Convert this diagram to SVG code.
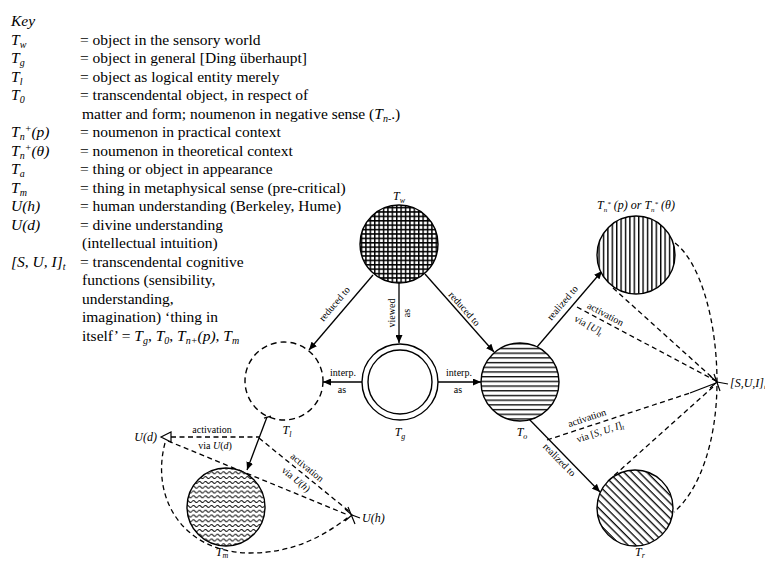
<svg xmlns="http://www.w3.org/2000/svg" width="765" height="562" viewBox="0 0 765 562">
<style>
.k{font-family:"Liberation Serif",serif;font-size:15.5px;fill:#000}
.i{font-style:italic}
.s{font-size:10px}
.lab{font-family:"Liberation Serif",serif;font-size:10px;fill:#000}
.nl{font-family:"Liberation Serif",serif;font-style:italic;font-size:12px;fill:#000}
.ln{stroke:#000;stroke-width:1.3;fill:none}
.dash{stroke-dasharray:5 3.5}
.arr{marker-end:url(#ah)}
.rim{stroke:#000;stroke-width:1.4}
</style>
<defs>
<marker id="ah" markerUnits="userSpaceOnUse" markerWidth="9" markerHeight="7" refX="8" refY="3.5" orient="auto"><path d="M0,0 L8,3.5 L0,7 z" fill="#000"/></marker>
<pattern id="grid" width="4.4" height="4.4" patternUnits="userSpaceOnUse"><rect width="4.4" height="4.4" fill="#fff"/><path d="M0,0.7 H4.4 M0.7,0 V4.4" stroke="#000" stroke-width="1.5"/></pattern>
<pattern id="vl" width="4.4" height="10" patternUnits="userSpaceOnUse"><rect width="4.4" height="10" fill="#fff"/><path d="M0.7,0 V10" stroke="#000" stroke-width="1.4"/></pattern>
<pattern id="hl" width="10" height="4.7" patternUnits="userSpaceOnUse"><rect width="10" height="4.7" fill="#fff"/><path d="M0,0.7 H10" stroke="#000" stroke-width="1.3"/></pattern>
<pattern id="dl" width="10" height="5.4" patternUnits="userSpaceOnUse" patternTransform="rotate(45)"><rect width="10" height="5.4" fill="#fff"/><path d="M0,0.7 H10" stroke="#000" stroke-width="1.3"/></pattern>
<pattern id="wv" width="6" height="4.8" patternUnits="userSpaceOnUse"><rect width="6" height="4.8" fill="#fff"/><path d="M0,2.4 Q1.5,0.4 3,2.4 T6,2.4" stroke="#000" stroke-width="1.1" fill="none"/></pattern>
</defs>
<rect width="765" height="562" fill="#fff"/>

<g id="key">
<text class="k i" x="11" y="26">Key</text>
<text class="k i" x="11" y="44.5">T<tspan class="s" dy="3">w</tspan></text>
<text class="k i" x="11" y="63">T<tspan class="s" dy="3">g</tspan></text>
<text class="k i" x="11" y="81.5">T<tspan class="s" dy="3">l</tspan></text>
<text class="k i" x="11" y="100">T<tspan class="s" dy="3">0</tspan></text>
<text class="k i" x="11" y="137">T<tspan class="s" dy="3">n</tspan><tspan class="s" dy="-8">+</tspan><tspan dy="5">(p)</tspan></text>
<text class="k i" x="11" y="155.5">T<tspan class="s" dy="3">n</tspan><tspan class="s" dy="-8">+</tspan><tspan dy="5">(θ)</tspan></text>
<text class="k i" x="11" y="174">T<tspan class="s" dy="3">a</tspan></text>
<text class="k i" x="11" y="192.5">T<tspan class="s" dy="3">m</tspan></text>
<text class="k i" x="11" y="211">U(h)</text>
<text class="k i" x="11" y="229.5">U(d)</text>
<text class="k i" x="11" y="266.5">[S, U, I]<tspan class="s" dy="3">t</tspan></text>

<text class="k" x="80" y="44.5">= object in the sensory world</text>
<text class="k" x="80" y="63">= object in general [Ding überhaupt]</text>
<text class="k" x="80" y="81.5">= object as logical entity merely</text>
<text class="k" x="80" y="100">= transcendental object, in respect of</text>
<text class="k" x="82" y="118.5">matter and form; noumenon in negative sense (<tspan class="i">T</tspan><tspan class="i s" dy="3">n-</tspan><tspan dy="-3">.)</tspan></text>
<text class="k" x="80" y="137">= noumenon in practical context</text>
<text class="k" x="80" y="155.5">= noumenon in theoretical context</text>
<text class="k" x="80" y="174">= thing or object in appearance</text>
<text class="k" x="80" y="192.5">= thing in metaphysical sense (pre-critical)</text>
<text class="k" x="80" y="211">= human understanding (Berkeley, Hume)</text>
<text class="k" x="80" y="229.5">= divine understanding</text>
<text class="k" x="82" y="248">(intellectual intuition)</text>
<text class="k" x="80" y="266.5">= transcendental cognitive</text>
<text class="k" x="82" y="285">functions (sensibility,</text>
<text class="k" x="82" y="303.5">understanding,</text>
<text class="k" x="82" y="322">imagination) ‘thing in</text>
<text class="k" x="82" y="340.5">itself’ = <tspan class="i">T</tspan><tspan class="i s" dy="3">g</tspan><tspan dy="-3">, </tspan><tspan class="i">T</tspan><tspan class="i s" dy="3">0</tspan><tspan dy="-3">, </tspan><tspan class="i">T</tspan><tspan class="i s" dy="3">n+</tspan><tspan class="i" dy="-3">(p)</tspan>, <tspan class="i">T</tspan><tspan class="i s" dy="3">m</tspan></text>
</g>

<g id="connectors">
<path class="ln arr" d="M373,275 L309,350"/>
<path class="ln arr" d="M399,283 L399,343"/>
<path class="ln arr" d="M425,274 L494,352"/>
<path class="ln arr" d="M362,382 L323,382"/>
<path class="ln arr" d="M438,382 L481,382"/>
<path class="ln arr" d="M537,347 L602,271"/>
<path class="ln arr" d="M528,418 L600,492"/>
<path class="ln" d="M264,418 L271,416"/>
<path class="ln arr" d="M267,417 L247,470"/>

<path class="ln dash" d="M577,307 L716,381"/>
<path class="ln dash" d="M613,288 L716,381"/>
<path class="ln dash" d="M675,243 C700,262 717,320 717,382 C717,440 700,490 674,512"/>
<path class="ln dash" d="M547,440 L690,393"/>
<path class="ln" d="M690,393 L716,383"/>
<path class="ln dash" d="M608,481 L714,386"/>
<path class="ln dash" d="M171,437 L259,437"/>
<path class="ln dash" d="M259,438 L350,512"/>
<path class="ln dash" d="M168,441 L348,515"/>
<path class="ln dash" d="M165,443 C150,500 185,553 250,553 C295,553 325,535 350,516"/>

<text class="lab" transform="translate(337,306) rotate(-49.5)" text-anchor="middle">reduced to</text>
<text class="lab" transform="translate(395,313) rotate(-90)" text-anchor="middle">viewed</text>
<text class="lab" transform="translate(410,313) rotate(-90)" text-anchor="middle">as</text>
<text class="lab" transform="translate(462,311) rotate(48.5)" text-anchor="middle">reduced to</text>
<text class="lab" x="343" y="376" text-anchor="middle">interp.</text>
<text class="lab" x="342" y="393" text-anchor="middle">as</text>
<text class="lab" x="459" y="376" text-anchor="middle">interp.</text>
<text class="lab" x="458" y="393" text-anchor="middle">as</text>
<text class="lab" transform="translate(565,305) rotate(-49.5)" text-anchor="middle">realized to</text>
<text class="lab" transform="translate(557,462) rotate(45.8)" text-anchor="middle">realized to</text>
<text class="lab" transform="translate(604,317) rotate(28)" text-anchor="middle">activation</text>
<text class="lab" transform="translate(587,328) rotate(28)" text-anchor="middle">via [<tspan class="i">U</tspan>]<tspan class="i" font-size="7" dy="2">t</tspan></text>
<text class="lab" transform="translate(588,421) rotate(-18.2)" text-anchor="middle">activation</text>
<text class="lab" transform="translate(601,435) rotate(-18.2)" text-anchor="middle">via [<tspan class="i">S, U, I</tspan>]<tspan class="i" font-size="7" dy="2">t</tspan></text>
<text class="lab" x="212" y="433" text-anchor="middle">activation</text>
<text class="lab" x="215" y="449" text-anchor="middle">via <tspan class="i">U</tspan>(<tspan class="i">d</tspan>)</text>
<text class="lab" transform="translate(305,470) rotate(39.1)" text-anchor="middle">activation</text>
<text class="lab" transform="translate(294,482) rotate(39.1)" text-anchor="middle">via <tspan class="i">U</tspan>(<tspan class="i">h</tspan>)</text>
</g>

<g id="n-Tw">
<circle cx="399" cy="244" r="39" fill="url(#grid)" class="rim"/>
<text class="nl" x="399" y="200" text-anchor="middle">T<tspan font-size="8" dy="2.5">w</tspan></text>
</g>
<g id="n-Tn">
<circle cx="636" cy="255" r="39" fill="url(#vl)" class="rim"/>
<text class="nl" x="636" y="209" text-anchor="middle" font-size="10">T<tspan font-size="7" dy="2.5">n</tspan><tspan font-size="7" dy="-6">*</tspan><tspan dy="3.5"> (p) or </tspan>T<tspan font-size="7" dy="2.5">n</tspan><tspan font-size="7" dy="-6">*</tspan><tspan dy="3.5"> (θ)</tspan></text>
</g>
<g id="n-Tg">
<circle cx="400" cy="382" r="38" fill="#fff" class="rim"/>
<circle cx="400" cy="382" r="32" fill="#fff" class="rim"/>
<text class="nl" x="400" y="436" text-anchor="middle">T<tspan font-size="8" dy="2.5">g</tspan></text>
</g>
<g id="n-Tl">
<circle cx="284" cy="381" r="39" fill="none" stroke="#000" stroke-width="1.4" stroke-dasharray="6 4"/>
<text class="nl" x="287" y="434" text-anchor="middle">T<tspan font-size="8" dy="2.5">l</tspan></text>
</g>
<g id="n-To">
<circle cx="520" cy="382" r="39" fill="url(#hl)" class="rim"/>
<text class="nl" x="522" y="436" text-anchor="middle">T<tspan font-size="8" dy="2.5">o</tspan></text>
</g>
<g id="n-Tm">
<circle cx="226" cy="507" r="39" fill="url(#wv)" class="rim"/>
<text class="nl" x="222" y="556" text-anchor="middle">T<tspan font-size="8" dy="2">m</tspan></text>
</g>
<g id="n-Tr">
<circle cx="635" cy="508" r="38" fill="url(#dl)" class="rim"/>
<text class="nl" x="640" y="556" text-anchor="middle">T<tspan font-size="8" dy="2">r</tspan></text>
</g>
<g id="n-Ud">
<polygon points="161,437 171,432 171,442" fill="#fff" stroke="#000" stroke-width="1.2"/>
<text class="nl" x="157" y="441" text-anchor="end" font-size="10.5">U(d)</text>
</g>
<g id="n-Uh">
<polyline points="345,509 352,515 345,521" fill="none" stroke="#000" stroke-width="1.2"/>
<path d="M348,507 L355,524 M352,515 L360,518" stroke="#000" stroke-width="1.2" fill="none"/>
<text class="nl" x="362" y="522" font-size="10.5">U(h)</text>
</g>
<g id="n-SUI">
<polyline points="710,376 717,382 710,388" fill="none" stroke="#000" stroke-width="1.2"/>
<path d="M714,374 L720,391 M717,382 L728,384" stroke="#000" stroke-width="1.2" fill="none"/>
<text class="nl" x="730" y="387" font-size="9.5">[S,U,I]<tspan font-size="7" dy="2">t</tspan></text>
</g>
</svg>
